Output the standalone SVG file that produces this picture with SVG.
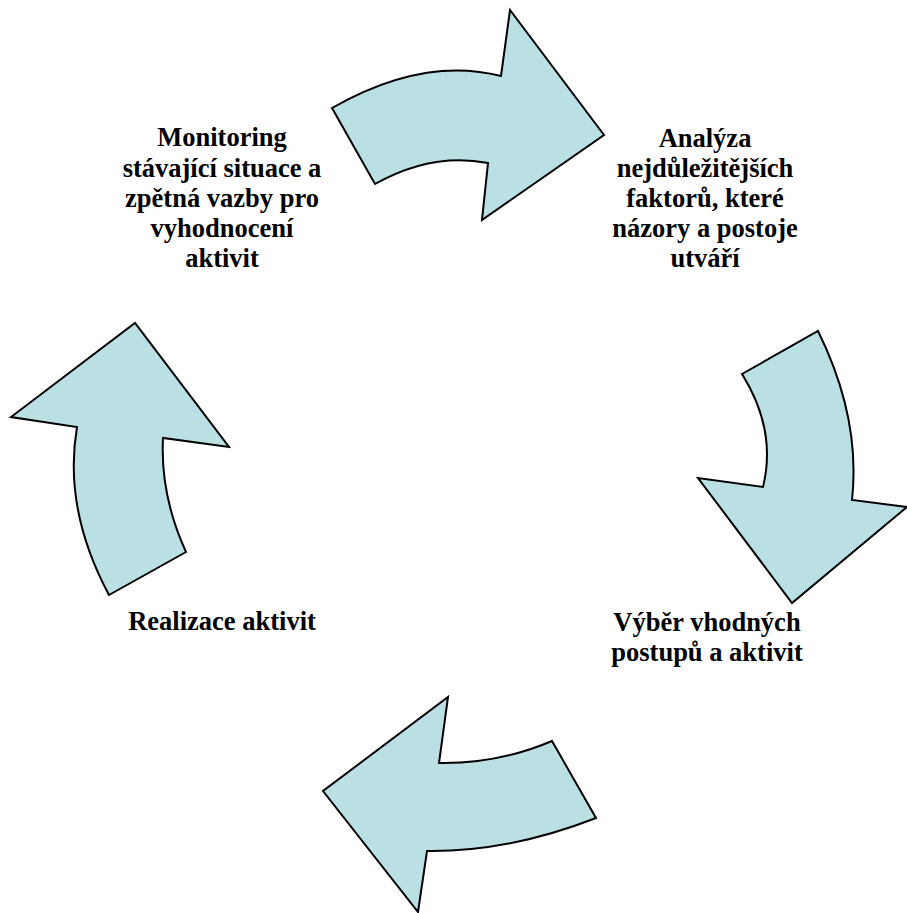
<svg xmlns="http://www.w3.org/2000/svg" width="907" height="913" viewBox="0 0 907 913">
<style>
.arr{fill:#BBE0E3;stroke:#000;stroke-width:2;stroke-linejoin:miter}
text{font-family:'Liberation Serif','Times New Roman',serif;font-weight:700;font-size:26.5px;fill:#000;text-anchor:middle}
</style>
<rect width="907" height="913" fill="#fff"/>
<g id="connectors">
<path id="arrow-top" class="arr" d="M332,108 L375,184 Q432,152 488,163 L482,220 L604,135 L510,10 L501,76 Q423,56 332,108 Z"/>
<path id="arrow-right" class="arr" d="M742,374 L818,331 Q861,418 852,500 L907,507 L792,603 L698,478 L763,487 Q777,430 742,374 Z"/>
<path id="arrow-bottom" class="arr" d="M552,741 L596,818 Q509,852 427,851 L418,912 L323,791 L448,697 L439,763 Q498,764 552,741 Z"/>
<path id="arrow-left" class="arr" d="M186,552 L109,595 Q63,509 77,427 L11,417 L135,323 L229,447 L163,438 Q160,495 186,552 Z"/>
</g>
<g id="node-monitoring">
<text x="222" y="146">Monitoring</text>
<text x="222" y="176.5">stávající situace a</text>
<text x="222" y="207">zpětná vazby pro</text>
<text x="222" y="237">vyhodnocení</text>
<text x="222" y="267">aktivit</text>
</g>
<g id="node-analyza">
<text x="705" y="146.5">Analýza</text>
<text x="705" y="176.5">nejdůležitějších</text>
<text x="705" y="207">faktorů, které</text>
<text x="705" y="237">názory a postoje</text>
<text x="705" y="267">utváří</text>
</g>
<g id="node-vyber">
<text x="707" y="631">Výběr vhodných</text>
<text x="707" y="661">postupů a aktivit</text>
</g>
<g id="node-realizace">
<text x="222" y="630">Realizace aktivit</text>
</g>
</svg>
